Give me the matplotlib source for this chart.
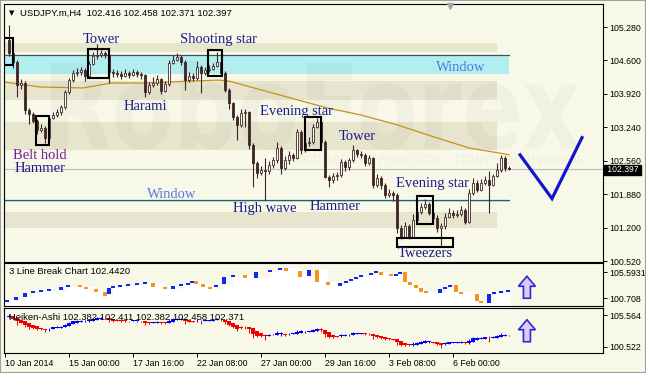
"""USDJPY H4 candlestick patterns with line break and Heiken-Ashi panels."""

import matplotlib

matplotlib.use("Agg")
import matplotlib.pyplot as plt
import matplotlib.transforms as mtransforms
import numpy as np
from matplotlib.font_manager import FontProperties
from matplotlib.patches import FancyArrow, PathPatch, Rectangle
from matplotlib.textpath import TextPath

# ----------------------------------------------------------------- data
first_open = 105.016
closes = [
    104.752, 104.570, 104.103, 104.143, 103.595, 103.514, 103.372, 103.189, 103.230, 103.027,
    103.433, 103.494, 103.555, 103.656, 103.961, 104.204, 104.346, 104.366, 104.407, 104.285,
    104.529, 104.691, 104.712, 104.752, 104.712, 104.366, 104.346, 104.326, 104.285, 104.346,
    104.306, 104.366, 104.326, 104.306, 103.961, 104.103, 104.143, 104.224, 103.981, 104.123,
    104.549, 104.610, 104.671, 104.570, 104.204, 104.285, 104.245, 104.468, 104.346, 104.407,
    104.427, 104.488, 104.570, 104.346, 104.001, 103.737, 103.453, 103.291, 103.534, 103.555,
    102.885, 102.519, 102.316, 102.377, 102.357, 102.479, 102.580, 102.824, 102.418, 102.580,
    102.682, 102.621, 103.149, 102.783, 102.925, 102.946, 103.250, 103.352, 102.946, 102.235,
    102.174, 102.255, 102.276, 102.540, 102.438, 102.580, 102.783, 102.702, 102.682, 102.519,
    102.621, 102.073, 102.215, 102.073, 101.870, 101.910, 101.870, 101.200, 101.017, 101.240,
    100.997, 101.362, 101.525, 101.626, 101.687, 101.504, 101.403, 101.200, 101.240, 101.423,
    101.504, 101.464, 101.484, 101.565, 101.321, 101.910, 102.113, 101.971, 102.113, 102.174,
    102.073, 102.255, 102.377, 102.621, 102.416, 102.397,
]
highs = [
    105.32, 104.80, 104.60, 104.22, 104.18, 103.64, 103.55, 103.40, 103.30, 103.26,
    103.46, 103.56, 103.62, 103.70, 104.00, 104.25, 104.40, 104.45, 104.46, 104.45,
    104.58, 104.78, 104.93, 104.82, 104.80, 104.74, 104.43, 104.40, 104.38, 104.42,
    104.38, 104.43, 104.40, 104.36, 104.33, 104.16, 104.26, 104.30, 104.25, 104.18,
    104.60, 104.72, 104.76, 104.72, 104.60, 104.36, 104.34, 104.58, 104.50, 104.47,
    104.50, 104.55, 104.77, 104.60, 104.38, 104.03, 103.76, 103.50, 103.62, 103.62,
    103.58, 102.92, 102.55, 102.46, 102.62, 102.55, 102.64, 102.95, 102.86, 102.66,
    102.76, 102.72, 103.20, 103.18, 103.00, 103.05, 103.30, 103.42, 103.38, 102.98,
    102.26, 102.32, 102.34, 102.60, 102.58, 102.62, 102.88, 102.80, 102.75, 102.72,
    102.68, 102.64, 102.28, 102.24, 102.10, 101.98, 101.95, 101.90, 101.26, 101.32,
    101.28, 101.48, 101.60, 101.70, 101.78, 101.72, 101.55, 101.45, 101.30, 101.50,
    101.60, 101.55, 101.56, 101.64, 101.60, 101.98, 102.20, 102.16, 102.18, 102.24,
    102.36, 102.30, 102.52, 102.68, 102.66, 102.458,
]
lows = [
    104.70, 104.45, 103.86, 104.02, 103.52, 103.31, 103.33, 103.11, 103.14, 102.92,
    102.99, 103.40, 103.45, 103.50, 103.62, 103.92, 104.16, 104.28, 104.30, 104.18,
    104.24, 104.50, 104.62, 104.66, 104.64, 104.14, 104.26, 104.27, 104.23, 104.26,
    104.24, 104.28, 104.26, 104.22, 103.86, 103.92, 104.05, 104.10, 103.92, 103.95,
    104.08, 104.52, 104.58, 104.50, 103.99, 104.16, 104.18, 104.20, 103.94, 104.30,
    104.36, 104.40, 104.46, 104.28, 103.95, 103.62, 103.38, 102.99, 103.25, 103.24,
    102.80, 102.03, 102.20, 102.26, 101.76, 102.30, 102.42, 102.52, 102.30, 102.38,
    102.50, 102.55, 102.60, 102.70, 102.74, 102.86, 102.90, 103.22, 102.88, 102.20,
    102.03, 102.10, 102.16, 102.22, 102.36, 102.38, 102.54, 102.64, 102.62, 102.46,
    102.48, 102.00, 102.02, 101.98, 101.80, 101.82, 101.74, 101.10, 100.96, 100.98,
    100.96, 100.98, 101.30, 101.48, 101.58, 101.45, 101.35, 101.12, 100.80, 101.18,
    101.40, 101.40, 101.42, 101.44, 101.28, 101.30, 101.86, 101.92, 101.94, 102.06,
    101.50, 102.04, 102.22, 102.34, 102.36, 102.371,
]
last_price = 102.397

# moving average read at anchor bars
ma_bars = [-1, 7.75, 18.5, 25.5, 34.5, 45.25, 52.5, 55, 61.25, 70.25,
           79.25, 88, 97, 106, 115, 123.75, 125]
ma_values = [104.16, 104.06, 104.04, 104.14, 104.14, 104.18, 104.20, 104.18, 104.04, 103.84,
             103.64, 103.49, 103.29, 103.05, 102.82, 102.70, 102.68]

# 3 line break bricks: bar position, low, high, rising
lb_pos = [-0.5, 1.75, 4, 6, 8, 10, 13, 14.75, 17.75, 19.25, 21.75, 24, 25, 26, 27.75,
          29.75, 32, 34, 36, 39, 41, 43, 44.75, 45.75, 46.75, 48.5, 50.25, 51.75, 53.75,
          56, 59, 61.75, 65.25, 67.75, 69.25, 72.75, 75, 77, 79.75, 82.75, 84.25, 85.5,
          86.75, 88, 90.5, 91.75, 93, 95.5, 96.75, 97.75, 99, 100.25, 101.75, 103, 104.25,
          107.75, 109, 110.25, 111.75, 113, 117, 118, 120, 121.25, 123, 124.75]
lb_low = [100.06, 100.38, 100.87, 101.52, 101.69, 101.85, 102.01, 102.50, 102.50, 102.18,
          101.69, 101.03, 101.36, 102.34, 102.50, 102.66, 102.83, 102.99, 102.50, 102.18,
          102.18, 102.66, 102.83, 103.15, 102.99, 102.50, 102.18, 102.50, 102.99, 104.13,
          103.97, 103.97, 104.94, 105.27, 105.10, 104.13, 104.29, 103.31, 102.83, 102.66,
          103.15, 103.48, 103.80, 104.13, 104.45, 104.78, 104.45, 104.29, 104.29, 104.62,
          103.31, 102.83, 102.34, 101.69, 101.52, 101.52, 102.18, 102.50, 101.69, 101.36,
          100.22, 99.89, 99.89, 101.36, 101.52, 101.69]
lb_high = [100.22, 100.87, 101.52, 101.69, 101.85, 102.01, 102.50, 102.83, 102.83, 102.50,
           102.18, 101.69, 102.34, 102.50, 102.66, 102.83, 102.99, 103.15, 103.15, 102.50,
           102.66, 102.83, 103.15, 103.48, 103.48, 102.99, 102.50, 102.83, 104.13, 104.45,
           104.45, 104.94, 105.27, 105.59, 105.59, 105.10, 105.27, 105.27, 103.31, 103.15,
           103.48, 103.80, 104.13, 104.45, 104.78, 104.94, 104.94, 104.45, 104.62, 104.94,
           104.94, 103.31, 102.83, 102.34, 101.69, 102.18, 102.50, 102.83, 102.83, 101.69,
           101.36, 100.22, 101.36, 101.52, 101.69, 102.01]
lb_up = [1, 1, 1, 1, 1, 1, 1, 1, 0, 0, 0, 0, 1, 1, 1, 1, 1, 1, 0, 0,
         1, 1, 1, 1, 0, 0, 0, 1, 1, 1, 0, 1, 1, 1, 0, 0, 1, 0, 0, 1,
         1, 1, 1, 1, 1, 1, 0, 0, 1, 1, 0, 0, 0, 0, 0, 1, 1, 1, 0, 0,
         0, 0, 1, 1, 1, 1]

tick_bars = [-1, 15, 31, 47, 63, 79, 95, 111]
tick_labels = ["10 Jan 2014", "15 Jan 00:00", "17 Jan 16:00", "22 Jan 08:00",
               "27 Jan 00:00", "29 Jan 16:00", "3 Feb 08:00", "6 Feb 00:00"]
price_ticks = [105.28, 104.60, 103.92, 103.24, 102.56, 101.88, 101.20, 100.52]

beige_zones = [(104.77, 104.955), (103.80, 104.18), (102.78, 103.35), (101.20, 101.52)]
window_zone = (104.33, 104.71)
window_line = 101.77

# pattern boxes: first bar, last bar, low, high
boxes = [(-1.25, 1.0, 104.51, 105.06), (6.75, 10.0, 102.88, 103.47),
         (19.75, 25.0, 104.24, 104.83), (49.75, 53.25, 104.29, 104.81),
         (74.0, 78.0, 102.78, 103.45), (102.0, 106.0, 101.28, 101.85),
         (97.0, 111.0, 100.81, 100.98)]

# pattern labels: text, bar, price, colour
labels = [
    ("Tower", 23, 105.02, "#1B1B8A"), ("Shooting star", 52.25, 105.02, "#1B1B8A"),
    ("Harami", 34, 103.66, "#1B1B8A"), ("Evening star", 72, 103.57, "#1B1B8A"),
    ("Belt hold", 7.75, 102.66, "#7A1A9E"), ("Hammer", 7.75, 102.40, "#1B1B8A"),
    ("Tower", 87, 103.05, "#1B1B8A"), ("Window", 113, 104.45, "#5478E4"),
    ("Window", 40.75, 101.87, "#5478E4"), ("High wave", 64, 101.59, "#1B1B8A"),
    ("Hammer", 81.5, 101.63, "#1B1B8A"), ("Evening star", 105.75, 102.09, "#1B1B8A"),
    ("Tweezers", 104, 100.67, "#1B1B8A"),
]

forecast_bars = [127.75, 135.75, 143.25]
forecast_prices = [102.68, 101.79, 103.03]

BG = "#F8F8E8"
BEIGE = "#E7E5CD"
CYAN = "#B2EEF0"
CANDLE = "#3F2727"
SANS = ["Liberation Sans", "DejaVu Sans"]
SERIF = "Liberation Serif"


def _style_axes(axes):
    axes.set_facecolor(BG)
    for spine in axes.spines.values():
        spine.set_color("black")
        spine.set_linewidth(0.8)
    axes.tick_params(left=False, labelleft=False, right=True, labelright=True,
                     bottom=False, labelbottom=False, direction="out",
                     length=3, width=0.7, pad=1.5, labelsize=6.3)
    for label in axes.get_yticklabels():
        label.set_family(SANS)


def _draw_main(fig, axes):
    axes.set_ylim(100.50, 105.748)
    axes.set_yticks(price_ticks, [f"{v:.3f}" for v in price_ticks])
    _style_axes(axes)

    for low, high in beige_zones:
        axes.add_patch(Rectangle((-1.25, low), 123.25, high - low, color=BEIGE,
                                 lw=0, zorder=0.5))
    axes.add_patch(Rectangle((-1.25, window_zone[0]), 126.25,
                             window_zone[1] - window_zone[0], color=CYAN, lw=0, zorder=0.6))
    axes.plot([-1.25, 125], [window_zone[1]] * 2, color="#3C5656", lw=0.9, zorder=0.7)
    axes.add_patch(Rectangle((-1.25, window_line - 0.045), 126.25, 0.045, color=CYAN,
                             lw=0, zorder=0.6))
    axes.plot([-1.25, 125], [window_line] * 2, color="#2F5C5C", lw=0.9, zorder=0.7)
    axes.axhline(last_price, color="#BDBDBD", lw=0.8, zorder=0.8)

    # watermark
    path = TextPath((0, 0), "RoboForex",
                    prop=FontProperties(family="DejaVu Sans", weight="bold"), size=100)
    bb = path.get_extents()
    aff = (mtransforms.Affine2D().translate(-bb.x0, -bb.y0)
           .scale(528 / bb.width, 90 / bb.height).translate(51, 223)
           .scale(1 / 646, 1 / 373))
    axes.add_patch(PathPatch(path, transform=aff + fig.transFigure, fc="black",
                             ec="none", alpha=0.028, zorder=0.9, clip_on=False))
    axes.text(440 / 646, 1 - 160 / 373, "ИСПОЛЬЗУЙ РОБОТОВ – ПОЛУЧАЙ ПРИБЫЛЬ",
              transform=fig.transFigure, ha="center", va="center", fontsize=9,
              family="DejaVu Sans", color="black", alpha=0.035, zorder=0.9)

    axes.plot(ma_bars, ma_values, color="#C8901E", lw=0.9, zorder=2)

    bars = np.arange(len(closes))
    close_arr = np.array(closes)
    open_arr = np.array([first_open] + closes[:-1])
    rising = close_arr >= open_arr
    axes.vlines(bars, lows, highs, color=CANDLE, lw=0.8, zorder=3)
    axes.bar(bars, np.maximum(np.abs(close_arr - open_arr), 0.012),
             bottom=np.minimum(close_arr, open_arr), width=0.72,
             color=np.where(rising, "white", CANDLE), edgecolor=CANDLE,
             linewidth=0.6, zorder=4)

    for first, last, low, high in boxes:
        axes.add_patch(Rectangle((first, low), last - first, high - low, fill=False,
                                 ec="black", lw=1.5, zorder=5))
    for text, bar, price, colour in labels:
        axes.text(bar, price, text, ha="center", va="center", fontsize=10.5,
                  family=SERIF, color=colour, zorder=6)

    axes.plot(forecast_bars, forecast_prices, color="#1414CC", lw=2.3,
              solid_joinstyle="miter", zorder=6)

    blend = mtransforms.blended_transform_factory(axes.transAxes, axes.transData)
    axes.text(1.003, last_price - 0.02, f" {last_price:.3f} ", transform=blend,
              ha="left", va="center", fontsize=6.2, family=SANS, color="white",
              zorder=7, bbox=dict(boxstyle="square,pad=0.05", fc="black", ec="black"))
    axes.plot([0.745], [0.992], marker="v", color="#A8A8A8", ms=5,
              transform=axes.transAxes, clip_on=False, zorder=7)


def _draw_line_break(axes):
    axes.set_ylim(99.41, 106.41)
    axes.set_yticks([104.94, 100.708], ["105.5931", "100.708"])
    _style_axes(axes)
    levels = [hi if up else lo for lo, hi, up in zip(lb_low, lb_high, lb_up)]
    steps_x = [-1.25] + lb_pos[1:] + [125.5]
    steps_y = levels[:1] + levels
    axes.fill_between(steps_x, steps_y, 99.41, step="post", color="white", lw=0,
                      zorder=1)
    heights = np.maximum(np.array(lb_high) - np.array(lb_low), 0.3)
    colours = ["#1026F2" if up else "#F7931E" for up in lb_up]
    axes.bar(lb_pos, heights, bottom=lb_low, width=0.9, color=colours, lw=0, zorder=2)
    axes.text(0.008, 0.80, "3 Line Break Chart 102.4420", transform=axes.transAxes,
              fontsize=6.8, family=SANS, va="center", zorder=5)
    axes.add_patch(FancyArrow(0.873, 0.18, 0, 22 / 43, width=7 / 599,
                              head_width=17 / 599, head_length=10 / 43,
                              length_includes_head=True, transform=axes.transAxes,
                              fc="#E4C8F4", ec="#2B2BD6", lw=1.2, zorder=5,
                              clip_on=False))


def _draw_heiken_ashi(axes):
    axes.set_ylim(100.07, 106.07)
    axes.set_yticks([105.13, 100.87], ["105.564", "100.522"])
    _style_axes(axes)
    axes.tick_params(bottom=True, labelbottom=True, labelsize=6.3)
    axes.set_xticks(tick_bars, tick_labels, ha="left")
    for label in axes.get_xticklabels():
        label.set_family(SANS)

    close_arr = np.array(closes)
    open_arr = np.array([first_open] + closes[:-1])
    ha_close = (open_arr + np.array(highs) + np.array(lows) + close_arr) / 4
    ha_open = np.empty_like(ha_close)
    ha_open[0] = (open_arr[0] + close_arr[0]) / 2
    for i in range(1, len(ha_open)):
        ha_open[i] = (ha_open[i - 1] + ha_close[i - 1]) / 2
    ha_high = np.maximum.reduce([np.array(highs), ha_open, ha_close])
    ha_low = np.minimum.reduce([np.array(lows), ha_open, ha_close])
    colours = np.where(ha_close >= ha_open, "#0000F0", "#F00000")
    bars = np.arange(len(closes))
    axes.vlines(bars, ha_low, ha_high, colors=colours, lw=0.7, zorder=2)
    axes.bar(bars, np.maximum(np.abs(ha_close - ha_open), 0.08),
             bottom=np.minimum(ha_close, ha_open), width=0.85, color=colours, lw=0,
             zorder=3)
    axes.text(0.008, 0.78, "Heiken-Ashi 102.382 102.411 102.382 102.458 102.371",
              transform=axes.transAxes, fontsize=6.8, family=SANS, va="center",
              zorder=5)
    axes.add_patch(FancyArrow(0.873, 0.25, 0, 22 / 45, width=7 / 599,
                              head_width=17 / 599, head_length=10 / 45,
                              length_includes_head=True, transform=axes.transAxes,
                              fc="#E4C8F4", ec="#2B2BD6", lw=1.2, zorder=5,
                              clip_on=False))


def main():
    fig = plt.figure(figsize=(6.46, 3.73), dpi=100, facecolor=BG)
    left, width = 4 / 646, 599 / 646
    axes = fig.add_axes([left, 1 - 262 / 373, width, 258 / 373])
    line_break = fig.add_axes([left, 1 - 306 / 373, width, 43 / 373], sharex=axes)
    heiken = fig.add_axes([left, 1 - 353 / 373, width, 45 / 373], sharex=axes)
    axes.set_xlim(-1.25, 148.5)

    _draw_main(fig, axes)
    _draw_line_break(line_break)
    _draw_heiken_ashi(heiken)

    fig.text(9 / 646, 1 - 13 / 373, "▼", fontsize=5, family="DejaVu Sans", va="center")
    fig.text(20 / 646, 1 - 13 / 373, "USDJPY.m,H4  102.416 102.458 102.371 102.397",
             fontsize=6.8, family=SANS, va="center")
    fig.patches.append(Rectangle((0, 0), 1, 1, transform=fig.transFigure, fill=False,
                                 ec="#A0A0A0", lw=1.5))
    fig.savefig("out.png", dpi=100, facecolor=BG)


if __name__ == "__main__":
    main()
